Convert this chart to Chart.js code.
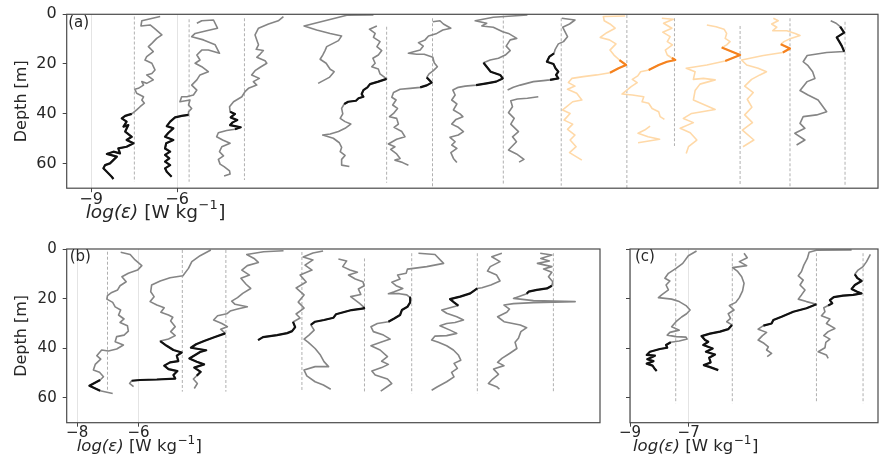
<!DOCTYPE html>
<html>
<head>
<meta charset="utf-8">
<script src="https://cdn.jsdelivr.net/npm/chart.js@4.4.1/dist/chart.umd.min.js"></script>
<style>
  html, body { margin: 0; padding: 0; background: #fff; }
  body { width: 880px; height: 461px; position: relative; overflow: hidden; }
  .panel { position: absolute; }
</style>
</head>
<body>
<div class="panel" style="left:0;top:0;width:880px;height:232px"><canvas id="chartA"></canvas></div>
<div class="panel" style="left:0;top:232px;width:612px;height:229px"><canvas id="chartB"></canvas></div>
<div class="panel" style="left:600px;top:232px;width:280px;height:229px"><canvas id="chartC"></canvas></div>
<script>
// ---- Depth profiles: each entry is [depth (m), plotted log(eps) incl. cast offset] ----
const depthTicks = [0, 20, 40, 60];
const xTicksA = [-9, -6];
const xTicksB = [-8, -6];
const xTicksC = [-9, -7];

// Panel (a)
const profA1 = [[0.9,-6.59],[2.6,-7.23],[4.7,-7.26],[4.3,-6.94],[5.6,-6.80],[8.3,-6.53],[9.7,-6.71],[11.7,-6.88],[13.0,-7.00],[15.0,-6.83],[17.0,-7.06],[18.4,-7.12],[19.7,-6.88],[22.4,-6.77],[23.8,-6.88],[24.4,-7.06],[26.4,-6.83],[27.8,-7.06],[27.1,-7.23],[28.5,-7.17],[29.8,-7.35],[30.2,-7.47],[31.8,-7.41],[33.2,-7.17],[34.5,-7.23],[35.8,-7.14],[37.2,-7.29],[38.5,-7.41],[40.1,-7.58],[40.5,-7.70],[40.9,-7.81],[41.9,-7.93],[43.2,-7.76],[45.2,-7.87],[44.6,-7.70],[47.2,-7.81],[49.3,-7.58],[50.6,-7.76],[51.9,-7.52],[53.3,-7.76],[54.0,-8.05],[56.0,-7.99],[55.3,-8.22],[56.2,-8.45],[57.3,-8.10],[60.0,-8.34],[60.7,-8.51],[62.0,-8.57],[63.4,-8.45],[65.4,-8.28],[66.3,-8.22]];
const profA2 = [[3.6,-5.31],[2.6,-5.14],[2.3,-4.73],[5.6,-4.59],[6.6,-4.97],[7.7,-5.37],[9.0,-5.49],[10.3,-5.08],[12.3,-4.67],[15.7,-4.52],[14.4,-4.91],[14.4,-5.14],[16.4,-5.31],[18.4,-5.20],[19.7,-5.37],[21.1,-5.14],[23.1,-4.91],[24.4,-5.20],[26.4,-5.31],[28.5,-5.49],[30.5,-5.31],[32.5,-5.43],[33.2,-5.66],[33.2,-5.84],[35.2,-5.90],[34.5,-5.55],[36.5,-5.60],[37.9,-5.49],[39.2,-5.60],[40.5,-5.60],[40.9,-5.84],[41.5,-6.07],[43.2,-6.24],[45.0,-6.36],[45.9,-6.13],[47.7,-6.30],[49.3,-6.42],[50.6,-6.13],[51.9,-6.38],[54.0,-6.42],[55.3,-6.24],[56.6,-6.42],[58.0,-6.27],[59.3,-6.42],[60.7,-6.24],[62.0,-6.42],[63.4,-6.36],[65.4,-6.19]];
const profA3 = [[0.9,-2.29],[2.6,-2.47],[3.9,-2.81],[5.6,-3.16],[8.3,-3.28],[10.3,-3.22],[12.3,-3.16],[14.1,-3.24],[14.6,-2.99],[16.0,-3.10],[17.3,-3.22],[18.7,-2.93],[19.7,-2.87],[21.3,-3.10],[22.7,-3.28],[24.4,-3.40],[25.8,-3.13],[27.1,-3.34],[28.5,-3.22],[29.8,-3.51],[31.1,-3.63],[33.2,-3.74],[35.2,-4.03],[37.2,-4.17],[39.2,-4.15],[40.1,-3.98],[41.5,-4.13],[42.6,-3.90],[43.5,-4.06],[44.6,-4.15],[45.5,-3.78],[46.3,-3.98],[46.8,-4.27],[47.7,-4.56],[49.3,-4.62],[50.6,-4.41],[51.9,-4.15],[53.3,-4.44],[55.3,-4.52],[57.0,-4.38],[58.4,-4.56],[60.3,-4.50],[61.3,-4.36],[63.0,-4.17],[64.3,-4.15],[65.1,-4.36]];
const profA4 = [[0.3,0.85],[0.4,-0.08],[4.7,-1.57],[6.3,-1.13],[7.7,-0.66],[8.7,-0.26],[10.6,-0.37],[13.0,-0.78],[14.6,-0.84],[16.4,-0.92],[18.1,-1.01],[19.7,-0.80],[22.1,-0.66],[23.1,-0.52],[25.4,-0.69],[27.8,-1.08]];
const profA5 = [[4.7,0.97],[6.0,0.71],[7.7,0.91],[9.3,0.85],[11.0,1.08],[13.0,0.97],[14.6,1.14],[16.4,1.02],[17.7,0.83],[19.7,0.91],[21.1,0.79],[22.0,1.02],[24.0,1.08],[26.0,1.31],[27.1,1.02],[28.1,0.73],[29.4,0.64],[30.5,0.50],[32.1,0.44],[33.2,0.50],[33.8,0.33],[34.8,0.24],[35.2,-0.03],[36.1,-0.17],[37.9,-0.26],[40.1,-0.22],[41.9,-0.31],[43.2,-0.14],[44.2,0.06],[45.9,-0.14],[47.2,-0.37],[48.2,-0.66],[48.6,-0.92],[49.9,-0.55],[51.7,-0.34],[53.6,-0.26],[55.3,-0.31],[56.8,-0.14],[58.4,-0.26],[60.7,-0.26],[61.3,0.01]];
const profA6 = [[3.0,2.92],[2.6,3.17],[3.9,3.29],[5.6,3.55],[6.3,3.27],[7.7,3.06],[8.7,2.77],[10.3,2.65],[11.4,2.42],[12.8,2.59],[14.4,2.48],[15.3,2.19],[15.7,2.07],[16.1,2.36],[16.1,2.62],[17.3,2.92],[19.5,2.97],[21.1,3.08],[22.7,2.94],[24.0,2.79],[25.4,2.71],[27.5,2.88],[28.6,2.71],[29.4,2.48],[29.8,2.13],[30.2,1.78],[31.5,1.55],[33.4,1.49],[34.5,1.64],[36.5,1.52],[37.9,1.69],[39.9,1.55],[41.2,1.41],[41.9,1.66],[44.2,1.72],[45.5,1.57],[47.2,1.84],[49.3,1.95],[50.3,1.66],[52.2,1.37],[53.3,1.60],[54.4,1.45],[56.2,1.66],[58.0,1.78],[58.7,1.60],[59.7,1.87],[60.8,2.07]];
const profA7 = [[0.3,6.22],[1.2,5.03],[2.6,4.40],[3.6,4.80],[4.7,4.63],[5.2,5.03],[7.0,5.36],[7.7,5.56],[9.7,5.85],[10.3,5.62],[12.8,5.48],[14.6,5.62],[16.4,5.45],[17.7,5.21],[18.4,4.92],[19.5,4.69],[21.1,4.80],[23.1,4.94],[24.4,5.27],[25.8,5.36],[27.1,5.13],[27.8,4.80],[28.5,4.43],[28.9,4.05],[29.4,3.81],[30.5,3.62],[32.5,3.70],[34.5,3.58],[36.1,3.76],[38.5,3.64],[40.1,3.87],[41.2,3.97],[42.3,3.73],[44.2,3.58],[45.5,3.81],[47.2,3.99],[48.6,3.81],[49.5,3.52],[51.3,3.70],[52.6,3.58],[54.0,3.76],[55.7,3.55],[58.0,3.64],[59.7,3.76]];
const profA8 = [[1.6,7.42],[2.3,7.88],[3.9,7.69],[5.2,7.45],[7.0,7.53],[9.0,7.62],[11.0,7.48],[11.9,7.30],[14.1,7.19],[15.7,7.15],[17.0,6.99],[19.1,6.90],[20.0,7.13],[21.7,7.20],[23.1,7.30],[24.4,7.22],[25.8,7.30],[26.4,7.01],[26.7,6.78],[27.1,6.43],[28.5,5.97],[29.4,5.73],[30.5,5.53],[31.8,null],[33.2,6.60],[33.8,6.22],[34.1,5.87],[34.8,5.64],[37.2,5.70],[39.6,5.56],[41.9,5.76],[44.2,5.64],[47.2,5.91],[49.3,5.70],[51.3,5.84],[53.3,5.67],[54.6,5.56],[56.2,5.84],[58.4,6.10],[59.5,5.93]];
const profA9 = [[0.7,9.63],[0.9,8.87],[2.6,8.90],[3.9,9.10],[5.6,9.28],[7.4,8.99],[9.3,8.76],[10.3,9.08],[11.9,9.31],[14.4,9.10],[16.4,9.24],[18.4,9.43],[20.4,9.66],[21.7,9.40],[23.5,9.10],[24.4,8.64],[25.1,8.17],[25.8,7.77],[27.5,7.65],[28.9,7.88],[30.2,7.62],[31.8,7.94],[34.5,8.12],[35.2,7.80],[38.5,7.45],[39.9,7.71],[42.6,7.50],[44.2,7.80],[46.3,7.62],[48.6,7.88],[50.6,7.71],[53.3,7.92],[55.7,7.69],[58.7,8.12]];
const profA10 = [[1.6,10.91],[2.0,11.31],[3.6,10.97],[5.6,11.26],[7.2,10.94],[9.0,11.20],[11.0,11.10],[12.3,11.28],[14.4,11.03],[16.4,11.10],[17.6,11.26],[18.4,11.38],[19.1,11.09],[20.4,10.80],[22.4,10.45],[23.1,10.17],[24.8,10.07],[26.2,9.88],[27.5,10.05],[29.1,9.84],[32.1,9.52],[32.5,9.88],[33.2,10.28],[35.2,10.22],[35.8,10.45],[37.9,10.57],[39.2,10.80],[41.2,10.85],[42.3,11.00],[43.5,null],[45.0,10.50],[46.6,10.31],[47.9,10.08],[49.3,10.43],[50.3,10.83],[51.7,10.08]];
const profA11 = [[4.3,12.48],[5.0,12.80],[6.0,13.08],[7.7,13.17],[9.7,13.12],[11.0,13.29],[12.3,13.17],[13.4,13.00],[16.4,13.64],[18.8,13.12],[20.4,12.48],[21.7,11.76],[23.1,12.07],[26.2,12.01],[25.8,12.36],[26.4,12.77],[28.1,12.24],[30.7,12.07],[34.5,12.01],[38.3,12.77],[39.9,11.95],[41.9,11.66],[43.6,12.01],[45.9,11.55],[47.7,11.90],[50.6,12.13],[53.3,11.84],[56.0,11.76]];
const profA12 = [[1.6,14.80],[2.6,14.97],[3.9,14.74],[5.2,14.92],[6.6,14.78],[6.6,15.27],[7.7,15.56],[8.5,15.73],[9.7,15.41],[11.0,15.17],[12.1,15.06],[13.8,15.38],[15.4,15.13],[16.6,14.45],[18.4,13.69],[20.4,13.87],[21.7,14.27],[23.1,14.56],[24.4,14.33],[26.2,14.04],[28.9,13.80],[31.5,14.10],[34.2,13.89],[37.4,14.05],[40.5,13.80],[43.6,14.07],[46.6,13.72],[50.6,14.12],[53.3,13.74]];
const profA13 = [[2.6,16.80],[3.6,16.99],[5.0,17.13],[7.4,17.27],[9.3,17.01],[11.0,17.10],[12.8,17.19],[15.0,17.27],[15.4,16.66],[16.6,15.98],[19.1,15.84],[20.7,16.01],[23.1,16.17],[25.8,16.25],[27.1,15.98],[30.7,15.73],[32.5,16.01],[34.5,16.36],[39.2,16.66],[40.5,16.31],[41.2,15.84],[43.9,15.73],[45.9,15.90],[47.9,15.55],[50.6,15.90],[52.6,15.61]];
// depth range of the highlighted layer in each cast (null = none)
const layerA = [[40.1,66.3],[40.5,65.4],[39.2,46.3],null,[26.0,36.1],[25.4,29.4],[19.5,28.5],[15.7,26.4],[18.4,23.5],[17.6,22.4],[13.4,18.8],[12.1,15.4],[5.0,15.0]];
// reference level of each cast and the depth span it is drawn over
const refA = [-7.49,-5.58,-3.65,null,1.31,2.91,5.38,7.40,9.69,11.35,13.64,15.38,17.30];
const refTopA = [0.9,2.0,1.6,null,5.0,1.6,0.5,1.6,0.3,1.6,4.7,1.6,3.0];
const refBotA = [67.4,67.4,66.7,null,67.8,69.4,68.7,69.0,70,53.0,68.7,70,69.4];

// Panel (b)
const profB1 = [[1.3,-6.58],[2.2,-6.27],[4.4,-6.11],[6.7,-5.89],[8.5,-6.03],[9.8,-6.33],[11.2,-6.54],[13.2,-6.40],[14.8,-6.60],[16.5,-6.68],[17.5,-6.87],[18.8,-7.01],[20.2,-7.03],[21.5,-6.84],[23.3,-6.76],[24.6,-6.58],[26.6,-6.65],[28.2,-6.47],[29.6,-6.60],[30.9,-6.36],[33.1,-6.33],[34.7,-6.47],[35.3,-6.71],[37.4,-6.76],[38.7,-6.49],[40.3,-6.71],[41.1,-6.98],[40.7,-7.20],[43.0,-7.36],[44.4,-7.23],[46.5,-7.41],[48.8,-7.47],[49.7,-7.27],[51.5,-7.14],[52.8,-7.25],[55.1,-7.60],[57.1,-7.25],[58.2,-6.84]];
const profB2 = [[0.4,-3.64],[2.7,-3.99],[5.1,-4.26],[7.8,-4.37],[10.8,-4.55],[11.6,-4.97],[12.9,-5.29],[14.5,-5.57],[17.2,-5.60],[19.2,-5.49],[21.2,-5.62],[22.6,-5.40],[23.7,-5.16],[25.5,-5.27],[26.6,-5.02],[27.5,-4.88],[29.0,-4.95],[31.3,-4.80],[33.3,-4.95],[34.9,-4.80],[36.3,-5.02],[37.1,-5.29],[39.0,-5.08],[40.7,-4.86],[41.7,-4.59],[43.0,-4.75],[45.2,-4.70],[45.7,-4.97],[47.0,-5.16],[48.4,-5.02],[49.2,-4.73],[50.8,-4.86],[52.2,-4.80],[52.6,-5.40],[52.8,-5.95],[53.1,-6.22],[54.2,-6.29],[55.5,-6.16]];
const profB3 = [[0.7,-1.27],[1.1,-1.92],[2.2,-2.47],[3.8,-2.23],[5.4,-2.09],[6.7,-2.45],[8.5,-2.63],[10.5,-2.38],[11.8,-2.66],[14.2,-2.49],[15.9,-2.34],[17.9,-2.60],[19.6,-2.77],[21.0,-2.96],[22.3,-2.85],[23.3,-2.45],[24.2,-2.77],[25.0,-3.01],[26.1,-3.12],[26.9,-3.42],[28.6,-3.55],[30.0,-3.28],[31.3,-3.10],[32.3,-3.32],[34.0,-3.17],[35.6,-3.53],[37.1,-3.86],[38.4,-4.12],[39.8,-4.29],[40.8,-3.79],[41.5,-3.99],[42.7,-4.15],[44.1,-4.34],[45.4,-4.10],[46.5,-3.86],[47.8,-4.18],[49.5,-3.97],[51.1,-4.10],[52.4,-4.21],[54.2,-4.08],[56.2,-4.18]];
const profB4 = [[0.8,0.02],[1.6,-0.31],[3.2,-0.63],[4.4,-0.31],[6.5,-0.57],[8.5,-0.34],[10.5,-0.73],[13.3,-0.53],[15.7,-0.86],[18.5,-0.60],[21.4,-0.79],[23.8,-0.60],[26.2,-0.86],[27.8,-0.73],[29.4,-0.96],[31.5,-0.89],[33.1,-0.99],[33.9,-1.15],[34.7,-1.48],[35.5,-1.94],[36.7,-2.10]];
const profB5 = [[4.0,0.52],[4.8,0.79],[7.1,0.66],[8.5,0.90],[9.4,1.14],[10.5,0.85],[12.1,1.07],[13.2,1.32],[14.8,1.36],[16.1,1.17],[18.3,1.25],[19.2,0.92],[20.6,1.07],[21.9,1.21],[23.3,1.34],[23.9,1.36],[24.6,0.95],[25.5,0.68],[26.3,0.44],[27.7,0.36],[28.6,0.05],[29.3,-0.24],[30.6,-0.38],[32.7,-0.27],[34.7,-0.44],[36.3,-0.60],[37.6,-0.46],[40.1,-0.24],[42.5,-0.08],[45.4,0.05],[47.4,0.20],[47.4,-0.24],[48.8,-0.60],[51.1,-0.51],[53.5,-0.24],[54.8,0.03],[56.5,0.27]];
const profB6 = [[1.7,3.13],[2.2,3.67],[5.8,3.95],[7.1,3.40],[7.8,2.97],[8.1,2.77],[9.8,2.73],[10.5,2.45],[12.1,2.53],[13.4,2.26],[14.8,2.40],[15.9,2.62],[17.2,2.34],[18.0,2.15],[18.0,2.51],[18.5,2.75],[19.6,2.86],[21.5,2.86],[23.3,2.77],[24.6,2.59],[26.6,2.53],[28.0,2.34],[29.3,2.15],[30.0,1.79],[31.3,1.58],[33.3,1.66],[34.7,1.99],[36.3,2.21],[37.6,1.90],[39.0,1.58],[40.7,1.88],[43.4,2.12],[45.2,1.93],[46.5,2.15],[47.8,1.93],[49.2,1.61],[50.8,1.72],[52.4,2.12],[54.2,2.26],[57.3,1.90]];
const profB7 = [[1.7,5.85],[3.1,5.52],[5.1,5.79],[7.1,5.47],[8.9,5.38],[10.5,5.68],[12.9,5.79],[14.5,5.49],[15.6,5.20],[15.9,5.05],[17.9,4.82],[19.2,4.49],[20.2,4.16],[21.5,4.29],[22.8,4.43],[23.7,4.16],[24.6,3.89],[25.9,4.05],[27.3,4.38],[28.6,4.60],[29.6,4.32],[30.0,4.05],[30.9,3.83],[32.7,4.16],[34.0,4.38],[34.9,4.05],[35.1,3.67],[36.7,3.56],[37.6,3.78],[39.0,4.05],[40.7,4.27],[42.7,4.43],[44.8,4.51],[46.1,4.29],[48.1,4.40],[49.7,4.21],[51.5,4.29],[53.5,4.05],[55.5,3.75],[56.9,3.56]];
const profB8 = [[1.7,7.10],[2.4,7.48],[3.8,7.12],[4.8,7.40],[5.8,7.01],[7.1,7.48],[8.1,7.21],[9.4,7.48],[11.2,7.37],[13.2,7.51],[14.8,7.48],[15.9,7.32],[16.5,6.99],[17.2,6.72],[18.0,6.66],[19.2,6.39],[19.9,6.23],[20.8,6.88],[21.2,8.24],[21.6,6.88],[22.0,6.23],[22.6,5.92],[24.2,6.10],[25.5,6.01],[27.3,5.71],[29.3,5.92],[30.6,6.45],[31.7,6.66],[33.3,6.47],[36.0,6.39],[37.6,6.28],[40.1,6.34],[42.1,6.10],[44.1,5.85],[45.7,5.71],[47.0,5.92],[48.4,5.58],[50.5,5.74],[52.4,5.55],[54.2,5.41],[55.5,5.68],[56.5,5.77]];
const layerB = [[52.8,57.1],[37.1,53.1],[34.0,51.1],[29.4,36.7],[23.3,30.6],[19.6,29.3],[15.9,22.8],[14.8,18.0]];
const refB = [-7.01,-4.57,-3.15,-0.67,1.37,2.91,5.05,7.53];
const refTopB = [1.1,0.4,0.4,1.2,3.8,1.7,1.7,1.7];
const refBotB = [57.5,57.5,57.5,56.9,57.5,58.2,58.2,57.5];

// Panel (c)
const profC1 = [[0.8,-6.73],[2.7,-7.01],[5.8,-7.20],[7.8,-7.43],[9.8,-7.69],[11.8,-7.81],[12.9,-7.64],[14.5,-7.77],[16.5,-7.69],[18.5,-7.92],[19.6,-8.03],[20.2,-7.58],[21.2,-7.32],[22.8,-7.09],[24.6,-6.95],[26.1,-7.07],[27.4,-7.24],[29.3,-7.43],[31.3,-7.58],[32.7,-7.32],[33.6,-7.64],[34.7,-7.73],[35.3,-7.43],[35.5,-7.09],[36.3,-7.05],[37.1,-7.32],[37.6,-7.61],[38.7,-7.77],[39.8,-7.73],[40.3,-7.98],[41.4,-8.32],[42.7,-8.43],[43.0,-8.15],[44.4,-8.41],[45.2,-8.20],[46.2,-8.43],[47.0,-8.23],[48.4,-8.15],[49.2,-8.09]];
const profC2 = [[1.7,-5.11],[3.5,-5.00],[5.1,-5.27],[6.7,-5.02],[7.5,-5.50],[8.9,-5.34],[11.2,-5.19],[13.8,-5.11],[16.9,-5.16],[19.6,-5.27],[21.5,-5.39],[22.8,-5.61],[24.6,-5.45],[26.1,-5.65],[28.0,-5.57],[29.3,-5.70],[30.6,-5.52],[32.3,-5.65],[33.3,-5.93],[34.1,-6.27],[35.1,-6.56],[36.7,-6.44],[37.4,-6.33],[38.7,-6.50],[40.1,-6.18],[41.4,-6.41],[42.5,-6.10],[43.8,-6.30],[45.7,-6.25],[46.8,-6.48],[47.6,-6.27],[48.8,-5.99]];
const profC3 = [[0.4,-1.44],[0.5,-2.64],[1.3,-2.89],[3.8,-2.95],[6.5,-3.07],[9.1,-3.15],[10.8,-3.26],[12.5,-3.09],[14.5,-3.20],[16.5,-3.03],[18.5,-3.15],[20.2,-3.26],[21.2,-2.98],[22.3,-2.64],[23.9,-2.98],[25.3,-3.43],[27.3,-3.83],[28.6,-4.11],[30.0,-4.17],[30.9,-4.45],[32.3,-4.63],[33.6,-4.34],[34.9,-4.48],[36.7,-4.63],[38.0,-4.43],[39.4,-4.28],[40.7,-4.34],[42.1,-4.17],[43.4,-4.32]];
const profC4 = [[2.2,-0.80],[5.1,-0.93],[7.1,-1.05],[8.5,-1.22],[10.2,-1.33],[11.6,-1.25],[12.9,-1.10],[14.5,-1.33],[16.1,-1.44],[17.2,-1.25],[17.9,-1.10],[18.5,-1.39],[18.8,-1.73],[19.4,-2.05],[20.6,-2.18],[21.9,-2.10],[22.8,-2.24],[23.7,-2.39],[25.3,-2.35],[26.9,-2.47],[28.2,-2.18],[30.0,-2.30],[32.0,-2.01],[33.3,-2.24],[34.9,-2.39],[36.3,-2.18],[37.6,-2.32],[39.8,-2.35],[41.4,-2.58],[42.7,-2.30],[44.1,-2.24]];
const layerC = [[37.6,49.2],[30.6,48.8],[22.3,30.9],[10.2,22.8]];
const refC = [-7.44,-5.51,-2.64,-1.05];
const refTopC = [1.7,1.7,1.7,1.7];
const refBotC = [62.2,62.2,61.6,62.2];

// ---- Styling ----
const FONT = '"DejaVu Sans", "Noto Sans", sans-serif';
const TEXT = '#262626';
const GRAY = '#858585';
const BLACK = '#111111';
const LIGHT_ORANGE = '#ffd9a8';
const DARK_ORANGE = '#f5821f';
const DASH = '#b0b0b0';
const ORANGE_CASTS_A = new Set([8, 9, 10, 11]);

function minusFmt(v) { return v < 0 ? '\u2212' + Math.abs(v) : String(v); }

function castDatasets(profiles, layers, refs, refTop, refBot, orangeSet) {
  const sets = [];
  profiles.forEach((prof, i) => {
    const warm = orangeSet && orangeSet.has(i);
    const pts = prof.map(([d, e]) => ({ x: e, y: d }));
    sets.push({ data: pts, showLine: true, borderColor: warm ? LIGHT_ORANGE : GRAY, borderWidth: 1.6, order: 2 });
    const layer = layers[i];
    if (layer) {
      const i0 = prof.findIndex(p => p[0] >= layer[0]);
      let i1 = i0;
      for (let k = i0; k < prof.length; k++) {
        if (prof[k][0] > layer[1]) break;
        i1 = k;
      }
      sets.push({ data: pts.slice(i0, i1 + 1), showLine: true, borderColor: warm ? DARK_ORANGE : BLACK, borderWidth: 2.2, order: 1 });
    }
    if (refs[i] !== null) {
      sets.push({ data: [{ x: refs[i], y: refTop[i] }, { x: refs[i], y: refBot[i] }], showLine: true,
        borderColor: DASH, borderWidth: 1, borderDash: [3, 2], order: 3 });
    }
  });
  return sets;
}

// Box around the plotting area, panel letter and the x-axis title
const panelDecor = {
  id: 'panelDecor',
  afterDraw(chart, args, o) {
    const { ctx, chartArea: a } = chart;
    ctx.save();
    ctx.strokeStyle = '#4a4a4a';
    ctx.lineWidth = 1.2;
    ctx.strokeRect(a.left, a.top, a.right - a.left, a.bottom - a.top);
    ctx.fillStyle = TEXT;
    ctx.textBaseline = 'middle';
    ctx.textAlign = 'left';
    ctx.font = '15px ' + FONT;
    ctx.fillText(o.letter, a.left + o.letterDx, a.top + 8.5);
    const fs = o.titleSize;
    let x = a.left + o.titleDx;
    const y = a.bottom + 24.5;
    ctx.font = 'italic ' + fs + 'px ' + FONT;
    ctx.fillText('log(\u03b5)', x, y);
    x += ctx.measureText('log(\u03b5)').width;
    ctx.font = fs + 'px ' + FONT;
    ctx.fillText(' [W kg', x, y);
    x += ctx.measureText(' [W kg').width;
    ctx.font = Math.round(fs * 0.72) + 'px ' + FONT;
    ctx.fillText('\u22121', x + 0.5, y - fs * 0.38);
    x += ctx.measureText('\u22121').width + 1;
    ctx.font = fs + 'px ' + FONT;
    ctx.fillText(']', x, y);
    ctx.restore();
  }
};

function makePanel(id, cfg) {
  return new Chart(document.getElementById(id), {
    type: 'scatter',
    data: { datasets: cfg.datasets },
    options: {
      responsive: true,
      maintainAspectRatio: false,
      animation: false,
      devicePixelRatio: 1,
      events: [],
      layout: { padding: cfg.padding },
      elements: {
        point: { radius: 0, hoverRadius: 0 },
        line: { tension: 0, fill: false, borderJoinStyle: 'round', borderCapStyle: 'butt' }
      },
      plugins: {
        legend: { display: false },
        tooltip: { enabled: false },
        panelDecor: { letter: cfg.letter, letterDx: cfg.letterDx, titleDx: cfg.titleDx, titleSize: cfg.titleSize }
      },
      scales: {
        x: {
          type: 'linear', position: 'bottom', min: cfg.xMin, max: cfg.xMax,
          afterBuildTicks: s => { s.ticks = cfg.xTicks.map(v => ({ value: v })); },
          afterFit: s => { s.height = cfg.xAxisH; s.paddingLeft = 0; s.paddingRight = 0; },
          border: { display: false },
          grid: { color: '#e4e4e4', lineWidth: 1, drawTicks: true, tickLength: 4, tickColor: '#444', tickWidth: 1 },
          ticks: { font: { family: FONT, size: cfg.tickSize }, color: TEXT, padding: cfg.tickPad, maxRotation: 0, autoSkip: false, callback: v => minusFmt(v) }
        },
        y: {
          type: 'linear', position: 'left', reverse: true, min: 0, max: 70,
          afterBuildTicks: s => { s.ticks = depthTicks.map(v => ({ value: v })); },
          afterFit: s => { s.width = cfg.yAxisW; s.paddingTop = 0; s.paddingBottom = 0; },
          border: { display: false },
          grid: { drawOnChartArea: false, drawTicks: true, tickLength: 4, tickColor: '#444', tickWidth: 1 },
          ticks: { font: { family: FONT, size: cfg.tickSize }, color: TEXT, padding: 6, autoSkip: false,
            callback: v => cfg.yLabels ? String(v) : '' },
          title: { display: cfg.yLabels, text: 'Depth [m]', color: TEXT, font: { family: FONT, size: 16 }, padding: { top: 12, bottom: 0 } }
        }
      }
    },
    plugins: [panelDecor]
  });
}

makePanel('chartA', {
  datasets: castDatasets([profA1, profA2, profA3, profA4, profA5, profA6, profA7, profA8, profA9, profA10, profA11, profA12, profA13],
    layerA, refA, refTopA, refBotA, ORANGE_CASTS_A),
  xMin: -9.85, xMax: 18.45, xTicks: xTicksA,
  padding: { left: 0, right: 2, top: 14.3, bottom: 0 },
  xAxisH: 43.8, yAxisW: 66.7, yLabels: true, tickSize: 16, tickPad: -2, titleSize: 18.5,
  letter: '(a)', letterDx: 1.5, titleDx: 19
});

makePanel('chartB', {
  datasets: castDatasets([profB1, profB2, profB3, profB4, profB5, profB6, profB7, profB8],
    layerB, refB, refTopB, refBotB, null),
  xMin: -8.34, xMax: 9.05, xTicks: xTicksB,
  padding: { left: 0, right: 12, top: 17, bottom: 0 },
  xAxisH: 38.3, yAxisW: 66.7, yLabels: true, tickSize: 15, tickPad: -3, titleSize: 16.5,
  letter: '(b)', letterDx: 3, titleDx: 10
});

makePanel('chartC', {
  datasets: castDatasets([profC1, profC2, profC3, profC4], layerC, refC, refTopC, refBotC, null),
  xMin: -9.0, xMax: -0.54, xTicks: xTicksC,
  padding: { left: 0, right: 2, top: 17, bottom: 0 },
  xAxisH: 38.3, yAxisW: 30, yLabels: false, tickSize: 15, tickPad: -3, titleSize: 16.5,
  letter: '(c)', letterDx: 5, titleDx: 3
});
</script>
</body>
</html>
